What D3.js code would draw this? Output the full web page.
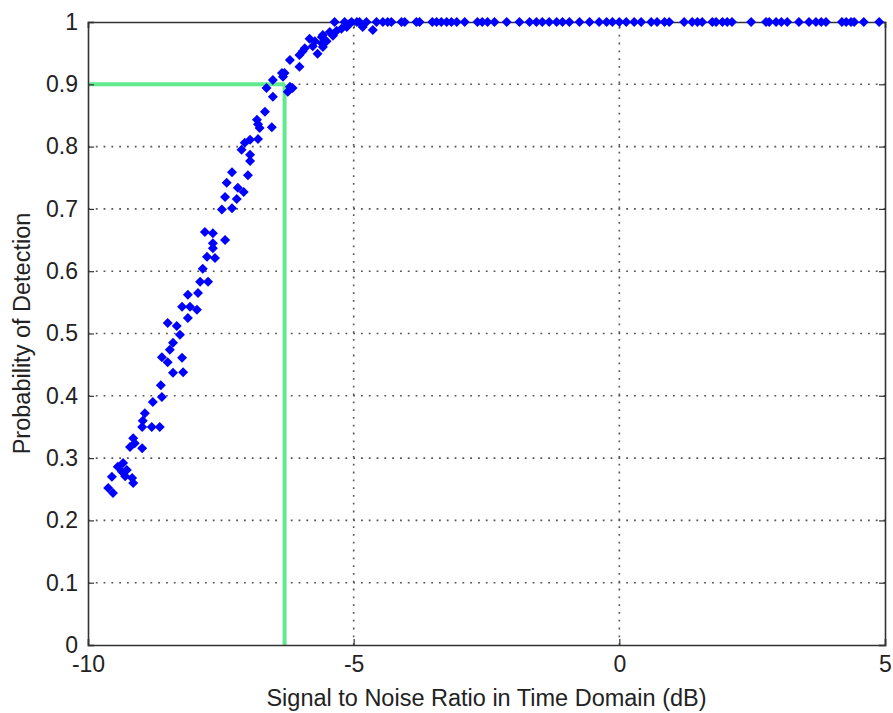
<!DOCTYPE html>
<html>
<head>
<meta charset="utf-8">
<script src="https://cdn.jsdelivr.net/npm/d3@7/dist/d3.min.js"></script>
<style>
  html, body { margin: 0; padding: 0; background: #fff; }
  svg { display: block; }
  text { font-family: "Liberation Sans", Arial, sans-serif; fill: #222; }
</style>
</head>
<body>
<svg id="chart" width="893" height="713"></svg>
<script>
// Detection probability versus SNR (dB), one point per trial
const snrDb = [
  -9.62, -9.53, -9.55, -9.44, -9.34, -9.36, -9.27, -9.30, -9.17, -9.15,
  -9.21, -9.12, -9.15, -8.98, -8.98, -8.97, -8.93, -8.80, -8.65, -8.78,
  -8.61, -8.63, -8.50, -8.61, -8.23, -8.40, -8.21, -8.46, -8.40, -8.27,
  -8.50, -8.33, -8.12, -8.23, -8.08, -7.95, -8.12, -7.93, -7.89, -7.74,
  -7.84, -7.76, -7.61, -7.80, -7.65, -7.42, -7.65, -7.65, -7.48, -7.29,
  -7.42, -7.20, -7.39, -7.18, -7.07, -7.29, -6.99, -7.11, -6.95, -6.95,
  -7.05, -6.95, -6.80, -6.82, -6.80, -6.77, -6.54, -6.67, -6.52, -6.64,
  -6.20, -6.15, -6.24, -6.52, -6.35, -6.30, -6.33, -6.20, -6.02, -6.02,
  -5.96, -5.92, -5.77, -5.58, -5.68, -5.51, -5.60, -5.83, -5.73, -5.60,
  -5.58, -5.39, -5.45, -5.32, -5.23, -5.13, -5.08, -4.94, -4.83, -4.64,
  -4.76,
  -5.36, -5.17, -5.04, -4.89, -4.57, -4.45, -4.36, -4.29, -4.10, -4.04,
  -3.82, -3.76, -3.52, -3.44, -3.35, -3.25, -3.16, -3.06, -2.91, -2.67,
  -2.58, -2.48, -2.35, -2.12, -1.88, -1.69, -1.56, -1.45, -1.32, -1.18,
  -1.07, -0.94, -0.75, -0.56, -0.38, -0.24, -0.13, 0.00, 0.13, 0.28,
  0.41, 0.60, 0.71, 0.85, 0.94, 1.22, 1.37, 1.47, 1.56, 1.75,
  1.82, 1.94, 2.03, 2.12, 2.48, 2.76, 2.82, 2.95, 3.05, 3.16,
  3.38, 3.57, 3.70, 3.80, 3.89, 4.19, 4.27, 4.36, 4.42, 4.60,
  4.89
];
const pDetect = [
  0.252, 0.244, 0.270, 0.286, 0.292, 0.278, 0.281, 0.271, 0.268, 0.260,
  0.318, 0.324, 0.332, 0.316, 0.350, 0.360, 0.372, 0.350, 0.350, 0.390,
  0.398, 0.417, 0.454, 0.462, 0.461, 0.437, 0.438, 0.474, 0.485, 0.498,
  0.517, 0.512, 0.525, 0.543, 0.543, 0.538, 0.562, 0.565, 0.583, 0.583,
  0.604, 0.623, 0.621, 0.663, 0.661, 0.650, 0.645, 0.637, 0.699, 0.701,
  0.719, 0.716, 0.742, 0.734, 0.727, 0.759, 0.754, 0.795, 0.787, 0.777,
  0.806, 0.811, 0.812, 0.843, 0.836, 0.830, 0.831, 0.856, 0.880, 0.894,
  0.896, 0.894, 0.888, 0.907, 0.918, 0.918, 0.912, 0.939, 0.928, 0.947,
  0.953, 0.958, 0.961, 0.960, 0.949, 0.969, 0.966, 0.973, 0.969, 0.976,
  0.979, 0.978, 0.984, 0.986, 0.989, 0.992, 0.997, 1.000, 0.992, 0.987,
  1.000,
  1, 1, 1, 1, 1, 1, 1, 1, 1, 1,
  1, 1, 1, 1, 1, 1, 1, 1, 1, 1,
  1, 1, 1, 1, 1, 1, 1, 1, 1, 1,
  1, 1, 1, 1, 1, 1, 1, 1, 1, 1,
  1, 1, 1, 1, 1, 1, 1, 1, 1, 1,
  1, 1, 1, 1, 1, 1, 1, 1, 1, 1,
  1, 1, 1, 1, 1, 1, 1, 1, 1, 1,
  1
];
const xTicks = [-10, -5, 0, 5];
const yTicks = [0, 0.1, 0.2, 0.3, 0.4, 0.5, 0.6, 0.7, 0.8, 0.9, 1];
// Operating point: 90% detection probability
const targetP = 0.9;
const targetSnr = -6.3;

const margin = { left: 88, top: 22, right: 8, bottom: 68 };
const W = 893, H = 713;
const x = d3.scaleLinear().domain([-10, 5]).range([margin.left, W - margin.right]);
const y = d3.scaleLinear().domain([0, 1]).range([H - margin.bottom, margin.top]);

const svg = d3.select("#chart");
const FONT = 23;

// dotted grid
const grid = svg.append("g").attr("stroke", "#555").attr("stroke-width", 1.6)
  .attr("stroke-dasharray", "1.8,6");
grid.selectAll(".gx").data(xTicks.slice(1, -1)).join("line")
  .attr("x1", d => x(d)).attr("x2", d => x(d))
  .attr("y1", y(0)).attr("y2", y(1));
grid.selectAll(".gy").data(yTicks.slice(1, -1)).join("line")
  .attr("x1", x(-10)).attr("x2", x(5))
  .attr("y1", d => y(d)).attr("y2", d => y(d));

// 90% detection guide
const guide = svg.append("g").attr("stroke", "#62ea8e").attr("stroke-width", 4).attr("fill", "none");
guide.append("line").attr("x1", x(-10)).attr("x2", x(targetSnr))
  .attr("y1", y(targetP)).attr("y2", y(targetP));
guide.append("line").attr("x1", x(targetSnr)).attr("x2", x(targetSnr))
  .attr("y1", y(0)).attr("y2", y(targetP));

// axes (ticks point inward), plain hyphen for negatives
const plain = d => String(d);
const xAxis = d3.axisBottom(x).tickValues(xTicks).tickSize(-6).tickPadding(11).tickFormat(plain);
const yAxis = d3.axisLeft(y).tickValues(yTicks).tickSize(-6).tickPadding(10).tickFormat(plain);
const xAxisTop = d3.axisTop(x).tickValues(xTicks).tickSize(-6).tickFormat("");
const yAxisRight = d3.axisRight(y).tickValues(yTicks).tickSize(-6).tickFormat("");

function styleAxis(g) {
  g.select(".domain").attr("stroke", "#333").attr("stroke-width", 1.6);
  g.selectAll(".tick line").attr("stroke", "#333").attr("stroke-width", 1.2);
  g.selectAll(".tick text").attr("font-size", FONT).attr("fill", "#222")
    .attr("font-family", '"Liberation Sans", Arial, sans-serif');
}

svg.append("g").attr("transform", `translate(0,${y(0)})`).call(xAxis).call(styleAxis);
svg.append("g").attr("transform", `translate(${x(-10)},0)`).call(yAxis).call(styleAxis);
svg.append("g").attr("transform", `translate(0,${y(1)})`).call(xAxisTop).call(styleAxis);
svg.append("g").attr("transform", `translate(${x(5)},0)`).call(yAxisRight).call(styleAxis);

// markers
const diamond = d3.symbol().type(d3.symbolSquare).size(50);
svg.append("g").attr("fill", "#0000ff")
  .selectAll("path").data(snrDb.map((s, i) => [s, pDetect[i]])).join("path")
  .attr("d", diamond)
  .attr("transform", d => `translate(${x(d[0])},${y(d[1])}) rotate(45)`);

// axis titles
svg.append("text").attr("x", (x(-10) + x(5)) / 2).attr("y", 706)
  .attr("text-anchor", "middle").attr("font-size", 23.5)
  .text("Signal to Noise Ratio in Time Domain (dB)");
svg.append("text").attr("transform", `translate(30,${(y(0) + y(1)) / 2}) rotate(-90)`)
  .attr("text-anchor", "middle").attr("font-size", 23.5)
  .text("Probability of Detection");
</script>
</body>
</html>
